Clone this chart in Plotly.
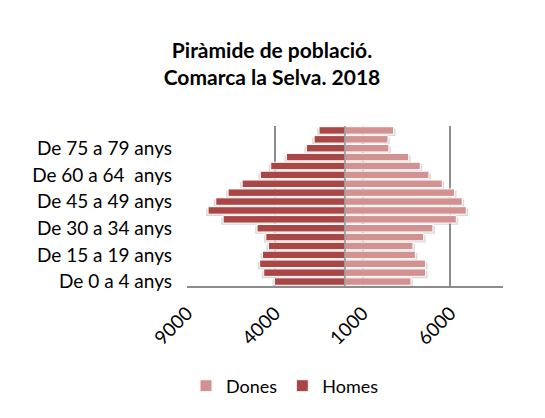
import plotly.graph_objects as go

categories = ["De 0 a 4 anys", "De 5 a 9 anys", "De 10 a 14 anys", "De 15 a 19 anys",
              "De 20 a 24 anys", "De 25 a 29 anys", "De 30 a 34 anys", "De 35 a 39 anys",
              "De 40 a 44 anys", "De 45 a 49 anys", "De 50 a 54 anys", "De 55 a 59 anys",
              "De 60 a 64\u00a0 anys", "De 65 a 69 anys", "De 70 a 74 anys", "De 75 a 79 anys",
              "De 80 a 84 anys", "De 85 anys i més"]
homes = [4020, 4630, 4860, 4700, 4360, 4510, 5010, 6940, 7800, 7360, 6660, 5860,
         4820, 4230, 3340, 2200, 1760, 1480]
dones = [3760, 4590, 4590, 4010, 3870, 4480, 5010, 6340, 6910, 6680, 6240, 5540,
         4780, 4290, 3630, 2500, 2450, 2770]
shown_labels = ["De 0 a 4 anys", "De 15 a 19 anys", "De 30 a 34 anys",
                "De 45 a 49 anys", "De 60 a 64\u00a0 anys", "De 75 a 79 anys"]
x_tickvals = [-9000, -4000, 1000, 6000]
x_ticktext = ["9000", "4000", "1000", "6000"]

FONT = "Lato"
W, H = 545, 418
OFF = 8  # page body margin
BW = 0.84
fig = go.Figure()
# soft drop shadows (decorative, drawn from the same data)
for vals, sign in ((dones, 1), (homes, -1)):
    fig.add_trace(go.Bar(y=categories, x=[sign * (v + 110) for v in vals], orientation="h",
                         width=BW, offset=-BW / 2 - 0.2, showlegend=False, hoverinfo="skip",
                         marker=dict(color="rgba(120,120,120,0.28)", line=dict(width=0))))
fig.add_trace(go.Bar(y=categories, x=dones, orientation="h", name="Dones", width=BW,
                     marker=dict(color="#D39292", line=dict(color="white", width=1))))
fig.add_trace(go.Bar(y=categories, x=[-v for v in homes], orientation="h", name="Homes", width=BW,
                     marker=dict(color="#A94746", line=dict(color="white", width=1))))

fig.add_shape(type="line", xref="x", yref="paper", x0=0, x1=0, y0=0, y1=1,
              line=dict(color="#8C8C8C", width=1.5), layer="above")

fig.update_layout(
    width=W, height=H,
    paper_bgcolor="white", plot_bgcolor="white",
    barmode="overlay",
    margin=dict(l=187 - OFF, r=42 + OFF, t=126 - OFF, b=132 + OFF, autoexpand=False),
    font=dict(family=FONT, color="#000000"),
    title=dict(text="<b>Piràmide de població.<br>Comarca la Selva. 2018</b>",
               x=(272 - OFF) / W, xref="container", xanchor="center",
               y=1 - (58 - OFF) / H, yref="container", yanchor="middle",
               font=dict(size=21, family=FONT, color="#000000")),
    legend=dict(orientation="h", xref="container", x=(285 - OFF) / W, xanchor="center",
                yref="container", y=1 - (386 - OFF) / H, yanchor="middle",
                font=dict(size=18, family=FONT), traceorder="normal",
                itemwidth=30, tracegroupgap=0),
    showlegend=True,
)
fig.update_xaxes(range=[-9000, 9000], tickvals=x_tickvals, ticktext=x_ticktext,
                 tickangle=-45, showgrid=True, gridcolor="#8C8C8C", gridwidth=1.5,
                 zeroline=False, showline=True, linecolor="#8C8C8C", linewidth=1.5,
                 tickfont=dict(size=19, family=FONT), ticks="", ticklabelstandoff=7)
fig.update_yaxes(categoryorder="array", categoryarray=categories,
                 range=[-0.5, len(categories) - 0.5],
                 tickvals=shown_labels, ticktext=shown_labels,
                 showgrid=False, zeroline=False, showline=False,
                 tickfont=dict(size=19, family=FONT), ticks="", ticklabelstandoff=14)

fig.write_html("out.html")
